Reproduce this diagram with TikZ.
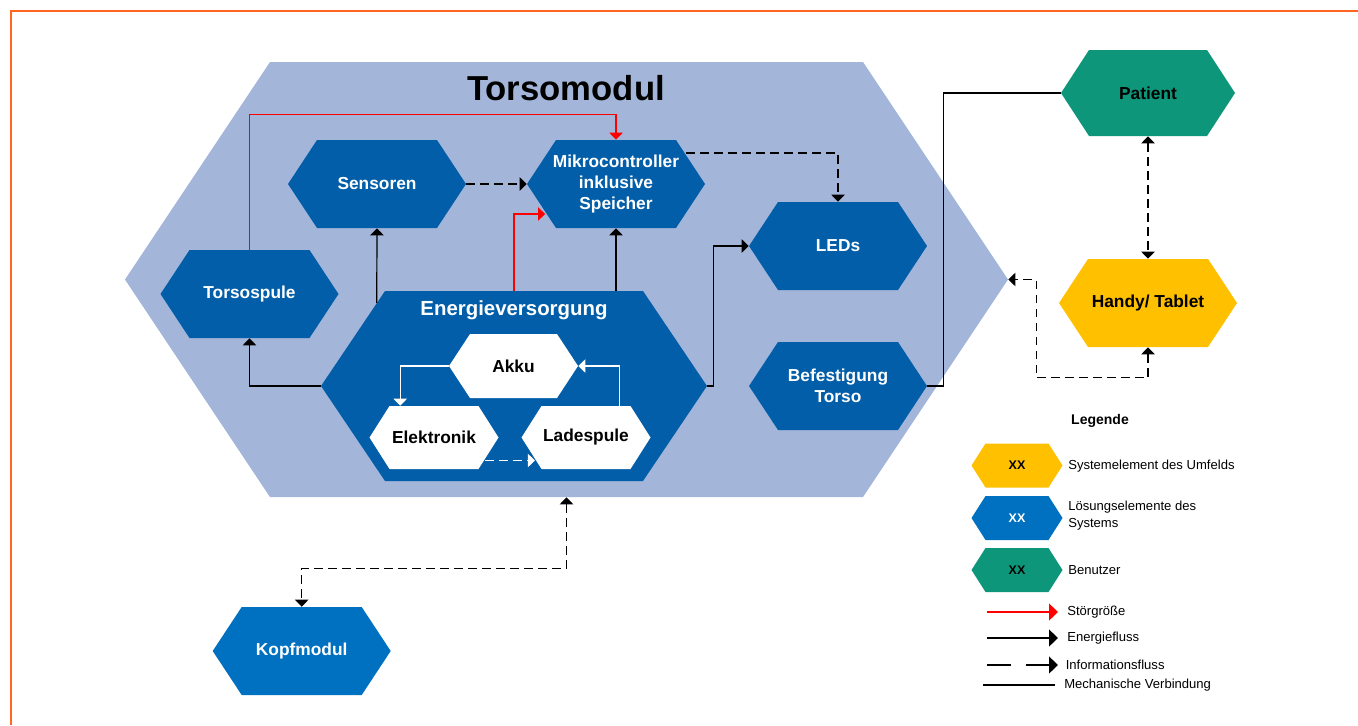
\documentclass[tikz,border=0pt]{standalone}
\usepackage{fontspec}
\setmainfont{Liberation Sans}
\usetikzlibrary{arrows.meta,calc}

\definecolor{torsobg}{RGB}{163,182,218}
\definecolor{darkblue}{RGB}{2,94,168}
\definecolor{midblue}{RGB}{0,112,192}
\definecolor{usergreen}{RGB}{14,150,122}
\definecolor{envyellow}{RGB}{255,192,0}
\definecolor{frameorange}{RGB}{255,102,31}
\definecolor{flowred}{RGB}{255,0,0}

\tikzset{
  hexfill/.store in=\hexfillcolor, hexfill=darkblue,
  hexinset/.store in=\hexinsetval, hexinset=29,
  hexsize/.style 2 args={minimum width=#1*0.75pt, minimum height=#2*0.75pt},
  % hexagon drawn inside the node's rectangle, pointed left and right
  hexa/.style={rectangle, inner sep=0pt, align=center,
    path picture={
      \fill[\hexfillcolor]
        (path picture bounding box.west)
        -- ([xshift=\hexinsetval*0.75pt]path picture bounding box.north west)
        -- ([xshift=-\hexinsetval*0.75pt]path picture bounding box.north east)
        -- (path picture bounding box.east)
        -- ([xshift=-\hexinsetval*0.75pt]path picture bounding box.south east)
        -- ([xshift=\hexinsetval*0.75pt]path picture bounding box.south west)
        -- cycle;}},
  labelfont/.style={font=\bfseries\fontsize{13}{15.75}\selectfont},
  blockbox/.style={hexa, hexsize={178}{88}, hexinset=29, hexfill=darkblue, text=white, labelfont},
  innerbox/.style={hexa, hexsize={129}{63}, hexinset=20, hexfill=white, text=black, labelfont},
  legbox/.style={hexa, hexsize={91}{44}, hexinset=14, font=\bfseries\fontsize{9.4}{11}\selectfont},
  legtext/.style={anchor=west, inner sep=0pt, align=left, font=\fontsize{9.8}{12.75}\selectfont},
  energy/.style={draw=black, line width=0.9pt, ->},
  info/.style={energy, dash pattern=on 6.5pt off 4pt},
  infoboth/.style={info, <->},
  disturb/.style={draw=flowred, line width=0.9pt, ->},
  mech/.style={draw=black, line width=0.9pt},
  powerflow/.style={draw=white, line width=0.9pt, ->},
  legline/.style={line width=2pt},
  legtip/.style={-{Triangle[length=6.75pt,width=12.5pt]}},
}

\begin{document}
\begin{tikzpicture}[x=0.75pt,y=-0.75pt,>={Triangle[length=5.3pt,width=10pt]}]
\useasboundingbox (0,0) rectangle (1358,725);

% page frame
\draw[frameorange, line width=1.5pt] (11,725) -- (11,11) -- (1358,11);

% torso module
\node[hexa, hexsize={883}{435}, hexinset=145, hexfill=torsobg] (tm) at (566.5,279.5) {};
\node[anchor=base, inner sep=0pt, font=\bfseries\fontsize{26}{30}\selectfont] (tmtitle) at (566,100) {Torsomodul};

\node[blockbox] (sen) at (377,184) {Sensoren};
\node[blockbox] (mc) at (616,184) {Mikrocontroller\\inklusive\\Speicher};
\node[blockbox] (ts) at (249.5,294) {Torsospule};
\node[blockbox] (led) at (838,246) {LEDs};
\node[blockbox] (bef) at (838,386) {Befestigung\\Torso};

% power supply with its parts
\node[hexa, hexsize={386}{190}, hexinset=64, hexfill=darkblue] (ev) at (514,386) {};
\node[anchor=base, inner sep=0pt, text=white, font=\bfseries\fontsize{15.3}{18}\selectfont] (evtitle) at (514,315) {Energieversorgung};
\node[innerbox, hexsize={129}{64}, hexinset=21] (akku) at (513.5,366) {Akku};
\node[innerbox] (el) at (434,437.5) {Elektronik};
\node[innerbox] (ls) at (586,437.5) {Ladespule};

% outside elements
\node[blockbox, hexfill=midblue] (kopf) at (301.7,651) {Kopfmodul};
\node[blockbox, hexsize={174}{86}, hexinset=28, hexfill=usergreen, text=black] (pat) at (1148,93) {Patient};
\node[blockbox, hexfill=envyellow, text=black] (hdy) at (1148,303) {Handy/ Tablet};

% connectors inside the torso module
\draw[disturb] (ts.north) |- ($(mc.north)+(0,-25)$) -- (mc.north);
\draw[disturb] (ev.north) |- ($(mc.west)+(18.4,30)$);
\draw[energy] ($(ev.west)+(56,-83)$) -- (sen.south);
\draw[energy] (mc.south |- ev.north) -- (mc.south);
\draw[energy] (ev.west) -| (ts.south);
\draw[energy] (ev.east) -- ++(6,0) |- (led.west);
\draw[info] (sen.east) -- (mc.west);
\draw[info] ($(mc.east)+(-19,-31)$) -| (led.north);

% connectors inside the power supply
\draw[powerflow] (akku.west) -| ($(el.north west)+(31,0)$);
\draw[powerflow] ($(ls.north west)+(98,0)$) |- (akku.east);
\draw[powerflow, dash pattern=on 6.5pt off 4pt] ($(el.east)+(-13.7,23)$) -- ($(ls.west)+(13.7,23)$);

% connectors to the outside
\draw[infoboth] (tm.south) -- ++(0,71) -| (kopf.north);
\draw[infoboth] (pat.south) -- (hdy.north);
\draw[infoboth] (hdy.south) -- ++(0,30.5) -| ($(tm.east)+(28,0)$) -- (tm.east);
\draw[mech] (pat.west) -| ($(bef.east)+(16,0)$) -- (bef.east);

% legend
\node[inner sep=0pt, font=\bfseries\fontsize{10.5}{12}\selectfont] (legtitle) at (1100,421) {Legende};
\node[legbox, hexfill=envyellow, text=black] (lgy) at (1017,465.5) {XX};
\node[legbox, hexfill=midblue, text=white] (lgb) at (1017,518) {XX};
\node[legbox, hexfill=usergreen, text=black] (lgg) at (1017,570) {XX};
\node[legtext] (lty) at (1068,466) {Systemelement des Umfelds};
\node[legtext] (ltb) at (1068,516) {Lösungselemente des\\Systems};
\node[legtext] (ltg) at (1068,570) {Benutzer};

\coordinate (rA) at (987,612);   \coordinate (rB) at (1058,612);
\coordinate (eA) at (987,638);   \coordinate (eB) at (1058,638);
\coordinate (iA) at (987,665);   \coordinate (iB) at (1058,665);
\coordinate (mA) at (983,685);   \coordinate (mB) at (1055,685);
\draw[legline, legtip, flowred] (rA) -- (rB);
\draw[legline, legtip, black] (eA) -- (eB);
\draw[legline, legtip, black, dash pattern=on 18pt off 11pt] (iA) -- (iB);
\draw[legline, black] (mA) -- (mB);
\node[legtext] (ltr) at (1067,612) {Störgröße};
\node[legtext] (lte) at (1067,638) {Energiefluss};
\node[legtext] (lti) at (1065.5,665) {Informationsfluss};
\node[legtext] (ltm) at (1064,685) {Mechanische Verbindung};
\end{tikzpicture}
\end{document}
